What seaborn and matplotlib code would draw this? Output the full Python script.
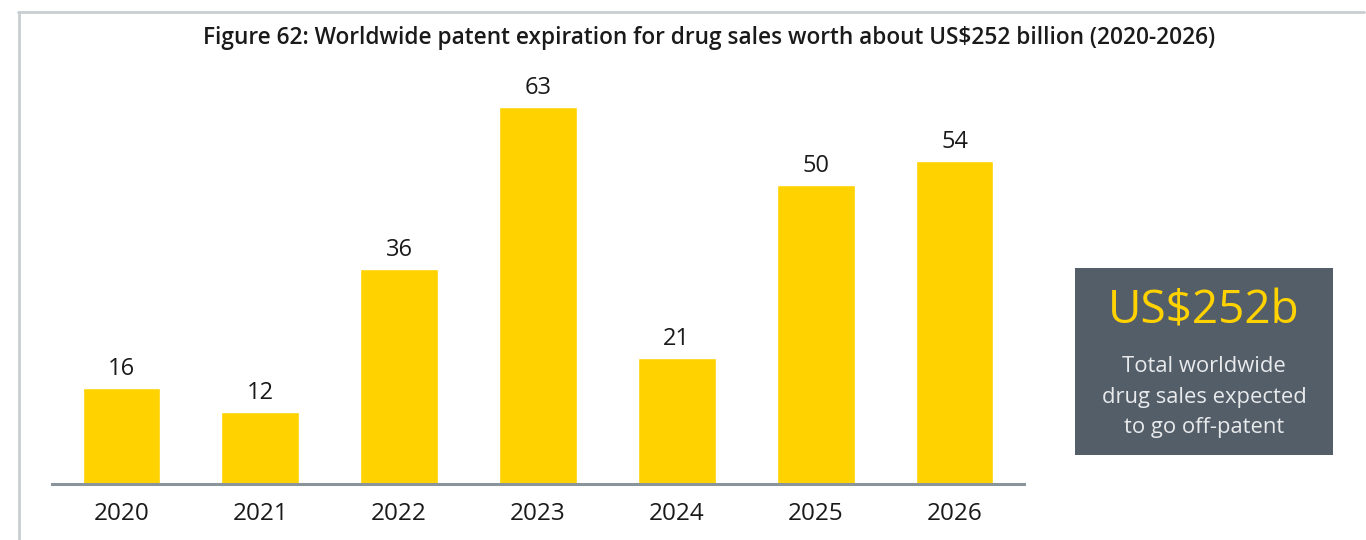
import matplotlib
matplotlib.use("Agg")
import matplotlib.pyplot as plt
import seaborn as sns
import pandas as pd
from matplotlib.patches import Rectangle
from matplotlib.lines import Line2D

years = ["2020", "2021", "2022", "2023", "2024", "2025", "2026"]
sales_bn = [16, 12, 36, 63, 21, 50, 54]
title = "Figure 62: Worldwide patent expiration for drug sales worth about US$252 billion (2020-2026)"
headline = "US$252b"
caption = "Total worldwide\ndrug sales expected\nto go off-patent"

YELLOW = "#FFD200"
SLATE = "#535E69"
AXIS_GREY = "#8A949B"
FRAME_GREY = "#C9CED2"

sns.set_theme(style="white")
plt.rcParams["font.family"] = ["Open Sans", "DejaVu Sans"]

df = pd.DataFrame({"year": years, "sales": sales_bn})

W, H = 1366, 540
fig = plt.figure(figsize=(W / 100, H / 100), dpi=100)

# page frame (top and left rules)
fig.add_artist(Line2D([18 / W, 1364 / W], [1 - 11.5 / H, 1 - 11.5 / H],
                      color=FRAME_GREY, lw=2, transform=fig.transFigure))
fig.add_artist(Line2D([19 / W, 19 / W], [0, 1 - 11.5 / H],
                      color=FRAME_GREY, lw=2, transform=fig.transFigure))

# bar axes: baseline at y=484 px, 0..68 mapped to 484..77
ax_left, ax_right = 52, 1024
y_base, y_top = 484, 484 - 68 * 5.985
ax = fig.add_axes([ax_left / W, 1 - y_base / H, (ax_right - ax_left) / W, (y_base - y_top) / H])

sns.barplot(data=df, x="year", y="sales", color=YELLOW, saturation=1, width=0.56, ax=ax)
ax.set_xlim(-0.5, 6.5)
ax.set_ylim(0, 68)

for p, v in zip(ax.patches, sales_bn):
    ax.annotate(f"{v}", (p.get_x() + p.get_width() / 2, v),
                xytext=(0, 5), textcoords="offset points",
                ha="center", va="bottom", fontsize=17, color="#1a1a1a")

for side in ["top", "right", "left"]:
    ax.spines[side].set_visible(False)
ax.spines["bottom"].set_color(AXIS_GREY)
ax.spines["bottom"].set_linewidth(2.2)
ax.set_yticks([])
ax.set_xlabel("")
ax.set_ylabel("")
ax.tick_params(axis="x", length=0, pad=13, labelsize=17.5, labelcolor="#1a1a1a")

fig.text(709 / W, 1 - 38 / H, title, ha="center", va="center",
         fontsize=16.3, fontweight="semibold", color="#1a1a1a")

# summary panel on the right
bx0, bx1, by0, by1 = 1075, 1333, 268, 455
fig.add_artist(Rectangle((bx0 / W, 1 - by1 / H), (bx1 - bx0) / W, (by1 - by0) / H,
                         facecolor=SLATE, edgecolor="none", transform=fig.transFigure))
cx = (bx0 + bx1) / 2 / W
fig.text(cx, 1 - 312 / H, headline, ha="center", va="center",
         fontsize=33, color=YELLOW)
fig.text(cx, 1 - 397 / H, caption, ha="center", va="center",
         fontsize=15.8, color="#E8EAEC", linespacing=1.58)

fig.savefig("out.png", dpi=100, facecolor="white")
